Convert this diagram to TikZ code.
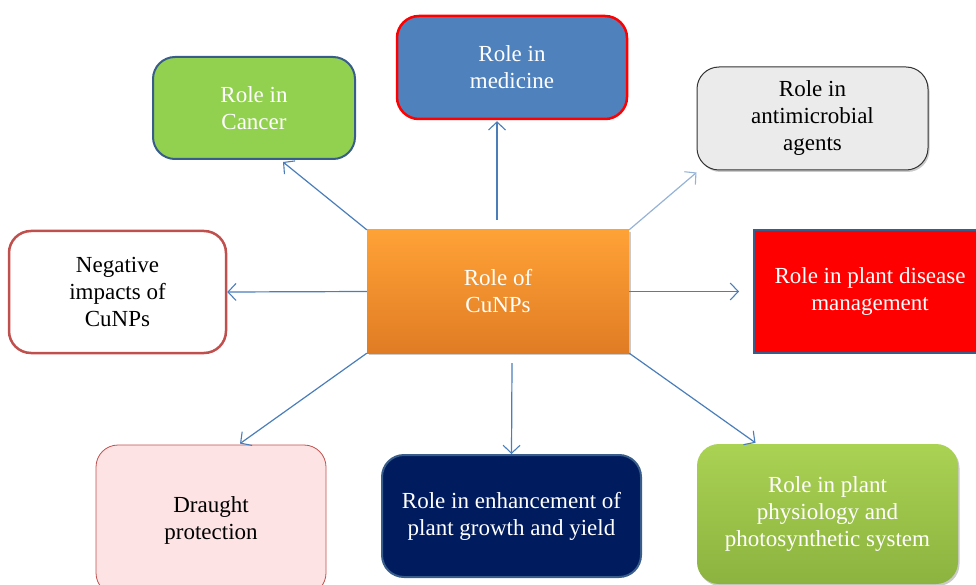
\documentclass[tikz,border=0pt]{standalone}
\usepackage{fontspec}
\setmainfont{Liberation Serif}
\newfontfamily\labelface{Liberation Serif}
\usetikzlibrary{arrows.meta,shadows}
\definecolor{linkblue}{HTML}{4A7EBB}
\definecolor{lightlink}{HTML}{95B3D7}
\definecolor{leafgreen}{HTML}{92D050}
\definecolor{steelblue}{HTML}{4F81BD}
\definecolor{edgeblue}{HTML}{385D8A}
\definecolor{softgray}{HTML}{EBEBEB}
\definecolor{brickred}{HTML}{C0504D}
\definecolor{blush}{HTML}{FDE3E4}
\definecolor{navy}{HTML}{001B5E}
\definecolor{oranget}{HTML}{FFA236}
\definecolor{orangeb}{HTML}{E07C24}
\definecolor{greent}{HTML}{AAD253}
\definecolor{greenb}{HTML}{8CB33F}
\begin{document}
\begin{tikzpicture}[x=1pt,y=-1pt,
  every node/.style={inner sep=0pt,align=center,font=\labelface\fontsize{23}{27}\selectfont},
  rbox/.style={rounded corners=22pt},
  link/.style={draw=linkblue,line width=1.2pt,-{Straight Barb[length=8pt,width=17pt,line width=1.1pt]}},
  softshadow/.style={drop shadow={shadow xshift=1.5pt,shadow yshift=-2pt,opacity=0.35,fill=black!60}}
]
\useasboundingbox (0,0) rectangle (976,585);

% hub
\node[softshadow,top color=oranget,bottom color=orangeb,minimum width=262pt,minimum height=123pt,text=white]
  (ctr) at (498,291.5) {Role of\\CuNPs};

% surrounding roles
\node[rbox,fill=leafgreen,draw=edgeblue,line width=2pt,minimum width=202pt,minimum height=102pt,text=white]
  (cancer) at (254,108) {Role in\\Cancer};
\node[rbox,fill=steelblue,draw=red,line width=2.5pt,minimum width=230pt,minimum height=103pt,text=white]
  (med) at (512,67.5) {Role in\\medicine};
\node[rbox,softshadow,fill=softgray,draw=black!80,line width=1pt,minimum width=231pt,minimum height=103pt,text=black]
  (anti) at (812.5,118.5) {Role in\\antimicrobial\\agents};
\node[fill=red,draw=edgeblue,line width=2pt,minimum width=232pt,minimum height=123pt,text=white]
  (dis) at (870,291.5) {Role in plant disease\\management};
\node[rbox,fill=white,draw=brickred,line width=2.5pt,minimum width=217pt,minimum height=122pt,text=black]
  (neg) at (117.5,292) {Negative\\impacts of\\CuNPs};
\node[rbox,fill=blush,draw=brickred,line width=0.8pt,minimum width=230pt,minimum height=150pt,text=black]
  (dr) at (211,520) {Draught\\protection};
\node[rbox,fill=navy,draw=edgeblue,line width=2pt,minimum width=259pt,minimum height=122pt,text=white]
  (grow) at (511.5,516) {Role in enhancement of\\plant growth and yield};
\node[rbox,softshadow,top color=greent,bottom color=greenb,minimum width=261pt,minimum height=140pt,text=white]
  (phys) at (827.5,514) {Role in plant\\physiology and\\photosynthetic system};

% connectors from the hub
\draw[link] (ctr.north west) -- ([xshift=29pt,yshift=-2pt]cancer.south);
\draw[link] ([xshift=-1pt,yshift=10pt]ctr.north) -- ([xshift=-15pt,yshift=-1pt]med.south);
\draw[link,draw=lightlink] (ctr.north east) -- ([yshift=-2pt]anti.south west);
\draw[link] (ctr.east) -- ([xshift=-14pt]dis.west);
\draw[link] (ctr.south east) -- ([xshift=-72pt,yshift=1pt]phys.north);
\draw[link] ([xshift=14pt,yshift=-10pt]ctr.south) -- (grow.north);
\draw[link] (ctr.south west) -- ([xshift=29pt,yshift=1pt]dr.north);
\draw[link] (ctr.west) -- (neg.east);
\end{tikzpicture}
\end{document}
